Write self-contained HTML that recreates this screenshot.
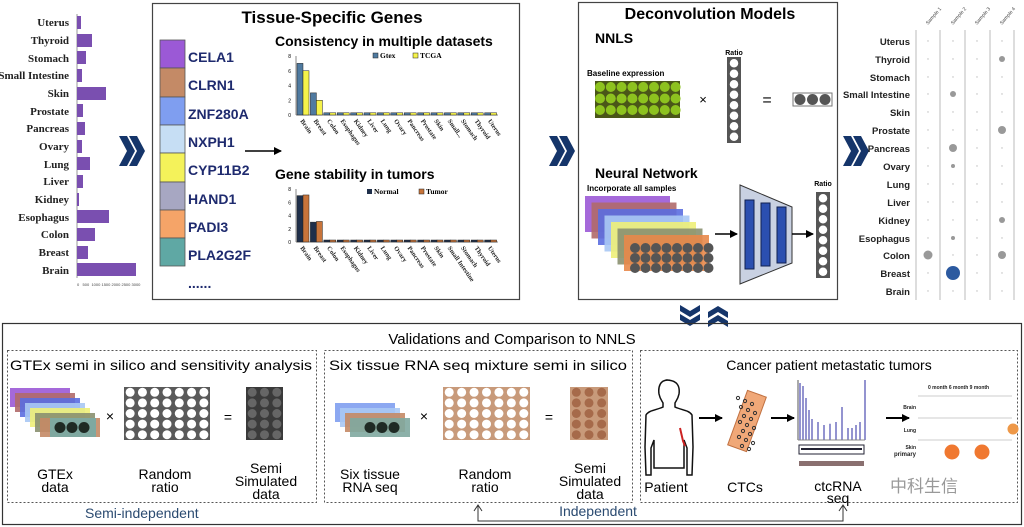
<!DOCTYPE html>
<html><head><meta charset="utf-8"><style>
html,body{margin:0;padding:0;background:#fff;width:1024px;height:527px;overflow:hidden}
svg{display:block}
text{font-family:"Liberation Sans",sans-serif}
.s text,text.s{font-family:"Liberation Serif",serif;font-weight:bold}
.b{font-weight:bold}
</style></head><body>
<svg id="g" width="1024" height="527" viewBox="0 0 1024 527" xmlns="http://www.w3.org/2000/svg">
<defs>
<marker id="ah" markerWidth="8" markerHeight="8" refX="7" refY="4" orient="auto" markerUnits="userSpaceOnUse"><path d="M0,0 L8,4 L0,8 Z" fill="#000"/></marker>
</defs>

<!-- Left bar chart -->
<g class="s" font-size="11" text-anchor="end" fill="#222">
<text x="69" y="26">Uterus</text><text x="69" y="44">Thyroid</text><text x="69" y="62">Stomach</text>
<text x="69" y="79">Small Intestine</text><text x="69" y="97">Skin</text><text x="69" y="115">Prostate</text>
<text x="69" y="132">Pancreas</text><text x="69" y="150">Ovary</text><text x="69" y="168">Lung</text>
<text x="69" y="185">Liver</text><text x="69" y="203">Kidney</text><text x="69" y="221">Esophagus</text>
<text x="69" y="238">Colon</text><text x="69" y="256">Breast</text><text x="69" y="274">Brain</text>
</g>
<line x1="77" y1="14" x2="77" y2="278" stroke="#999"/>
<g fill="#7a4fb0">
<rect x="77" y="16" width="4" height="13"/><rect x="77" y="34" width="15" height="13"/><rect x="77" y="51" width="9" height="13"/>
<rect x="77" y="69" width="5" height="13"/><rect x="77" y="87" width="29" height="13"/><rect x="77" y="104" width="6" height="13"/>
<rect x="77" y="122" width="8" height="13"/><rect x="77" y="140" width="5" height="13"/><rect x="77" y="157" width="13" height="13"/>
<rect x="77" y="175" width="6" height="13"/><rect x="77" y="193" width="2" height="13"/><rect x="77" y="210" width="32" height="13"/>
<rect x="77" y="228" width="18" height="13"/><rect x="77" y="246" width="11" height="13"/><rect x="77" y="263" width="59" height="13"/>
</g>
<text x="77" y="286" font-size="4" fill="#444">0 &#160;&#160;500 &#160;1000 1500 2000 2500 3000</text>

<!-- chevrons -->
<g fill="#15356a">
<path d="M119,136 l8,0 l8,15 l-8,15 l-8,0 l8,-15z M129,136 l8,0 l8,15 l-8,15 l-8,0 l8,-15z"/>
<path d="M549,136 l8,0 l8,15 l-8,15 l-8,0 l8,-15z M559,136 l8,0 l8,15 l-8,15 l-8,0 l8,-15z"/>
<path d="M843,136 l8,0 l8,15 l-8,15 l-8,0 l8,-15z M853,136 l8,0 l8,15 l-8,15 l-8,0 l8,-15z"/>
<path d="M680,305 l0,6 l10,6 l10,-6 l0,-6 l-10,6z M680,314 l0,6 l10,6 l10,-6 l0,-6 l-10,6z"/>
<path d="M708,312 l0,6 l10,-6 l10,6 l0,-6 l-10,-6z M708,321 l0,6 l10,-6 l10,6 l0,-6 l-10,-6z"/>
</g>

<!-- Box 1 -->
<rect x="152.5" y="3.5" width="367" height="296" fill="none" stroke="#444" stroke-width="1.2"/>
<text x="332" y="23" font-size="17" class="b" text-anchor="middle">Tissue-Specific Genes</text>
<g stroke="#555" stroke-width="0.8">
<rect x="160" y="40" width="25" height="28" fill="#9b59d6"/><rect x="160" y="68" width="25" height="29" fill="#c48a66"/>
<rect x="160" y="97" width="25" height="28" fill="#7f9ef0"/><rect x="160" y="125" width="25" height="28" fill="#c6def4"/>
<rect x="160" y="153" width="25" height="29" fill="#f4f25a"/><rect x="160" y="182" width="25" height="28" fill="#a7a7c2"/>
<rect x="160" y="210" width="25" height="28" fill="#f5a468"/><rect x="160" y="238" width="25" height="28" fill="#5fa8a4"/>
</g>
<g font-size="14" class="b" fill="#1e2a6e">
<text x="188" y="62">CELA1</text><text x="188" y="90">CLRN1</text><text x="188" y="119">ZNF280A</text>
<text x="188" y="147">NXPH1</text><text x="188" y="175">CYP11B2</text><text x="188" y="204">HAND1</text>
<text x="188" y="232">PADI3</text><text x="188" y="260">PLA2G2F</text><text x="188" y="288">......</text>
</g>
<line x1="245" y1="151" x2="281" y2="151" stroke="#000" stroke-width="1.5" marker-end="url(#ah)"/>
<text x="275" y="46" font-size="14" class="b">Consistency in multiple datasets</text>
<text x="275" y="179" font-size="14" class="b">Gene stability in tumors</text>
<g id="ch"></g>

<!-- Box 2 -->
<rect x="578.5" y="2.5" width="259" height="297" fill="none" stroke="#444" stroke-width="1.2"/>
<text x="710" y="19" font-size="16" class="b" text-anchor="middle">Deconvolution Models</text>
<text x="595" y="43" font-size="14" class="b">NNLS</text>
<text x="734" y="55" font-size="7" class="b" text-anchor="middle">Ratio</text>
<text x="587" y="76" font-size="8" class="b">Baseline expression</text>
<rect x="595" y="81" width="85" height="37" fill="#4a5618"/>
<text x="703" y="104" font-size="13" text-anchor="middle">×</text>
<text x="767" y="105" font-size="16" text-anchor="middle">=</text>
<rect x="793" y="93" width="39" height="13" fill="#fff" stroke="#777"/>
<text x="595" y="178" font-size="14" class="b">Neural Network</text>
<text x="587" y="191" font-size="8" class="b">Incorporate all samples</text>
<text x="823" y="186" font-size="7" class="b" text-anchor="middle">Ratio</text>
<g id="stack"></g>
<line x1="715" y1="234" x2="737" y2="234" stroke="#000" stroke-width="1.5" marker-end="url(#ah)"/>
<path d="M740,185 L792,207 L792,263 L740,284Z" fill="#c9d1e2" stroke="#333"/>
<rect x="745" y="200" width="9" height="69" fill="#2b4fb0" stroke="#102050"/>
<rect x="761" y="203" width="9" height="63" fill="#2b4fb0" stroke="#102050"/>
<rect x="777" y="207" width="9" height="56" fill="#2b4fb0" stroke="#102050"/>
<line x1="792" y1="234" x2="813" y2="234" stroke="#000" stroke-width="1.5" marker-end="url(#ah)"/>

<!-- right dot chart -->
<g font-size="9.5" class="b" text-anchor="end" fill="#222">
<text x="910" y="45">Uterus</text><text x="910" y="63">Thyroid</text><text x="910" y="81">Stomach</text>
<text x="910" y="98">Small Intestine</text><text x="910" y="116">Skin</text><text x="910" y="134">Prostate</text>
<text x="910" y="152">Pancreas</text><text x="910" y="170">Ovary</text><text x="910" y="188">Lung</text>
<text x="910" y="206">Liver</text><text x="910" y="224">Kidney</text><text x="910" y="242">Esophagus</text>
<text x="910" y="259">Colon</text><text x="910" y="277">Breast</text><text x="910" y="295">Brain</text>
</g>
<g stroke="#bbb"><line x1="916" y1="30" x2="916" y2="300"/><line x1="940" y1="30" x2="940" y2="300"/><line x1="965" y1="30" x2="965" y2="300"/><line x1="990" y1="30" x2="990" y2="300"/><line x1="1014" y1="30" x2="1014" y2="300"/></g>
<g font-size="5" fill="#444">
<text transform="translate(928,25) rotate(-50)">Sample 1</text><text transform="translate(953,25) rotate(-50)">Sample 2</text>
<text transform="translate(977,25) rotate(-50)">Sample 3</text><text transform="translate(1002,25) rotate(-50)">Sample 4</text>
</g>
<g id="dots"></g>

<!-- bottom -->
<rect x="2.5" y="323.5" width="1019" height="201" fill="none" stroke="#333" stroke-width="1.2"/>
<text x="512" y="344" font-size="15" text-anchor="middle">Validations and Comparison to NNLS</text>
<g fill="none" stroke="#555" stroke-dasharray="2,2">
<rect x="7.5" y="350.5" width="309" height="152"/><rect x="324.5" y="350.5" width="308" height="152"/><rect x="640.5" y="350.5" width="377" height="152"/>
</g>
<g font-size="14">
<text x="10" y="370" textLength="302" lengthAdjust="spacingAndGlyphs">GTEx semi in silico and sensitivity analysis</text>
<text x="329" y="370" textLength="298" lengthAdjust="spacingAndGlyphs">Six tissue RNA seq mixture semi in silico</text>
<text x="829" y="370" text-anchor="middle">Cancer patient metastatic tumors</text>
</g>
<g id="bot"></g>
<g font-size="14" text-anchor="middle">
<text x="55" y="479">GTEx</text><text x="55" y="492">data</text>
<text x="165" y="479">Random</text><text x="165" y="492">ratio</text>
<text x="266" y="473">Semi</text><text x="266" y="486">Simulated</text><text x="266" y="499">data</text>
<text x="370" y="479">Six tissue</text><text x="370" y="492">RNA seq</text>
<text x="485" y="479">Random</text><text x="485" y="492">ratio</text>
<text x="590" y="473">Semi</text><text x="590" y="486">Simulated</text><text x="590" y="499">data</text>
<text x="666" y="492">Patient</text><text x="745" y="492">CTCs</text>
<text x="838" y="491">ctcRNA</text><text x="838" y="503">seq</text>
<text x="110" y="421">×</text><text x="228" y="422">=</text><text x="424" y="421">×</text><text x="549" y="422">=</text>
</g>
<text x="85" y="518" font-size="14" fill="#2a4a70">Semi-independent</text>
<text x="598" y="516" font-size="14" fill="#2a4a70" text-anchor="middle">Independent</text>
<path d="M478,506 L478,521 L843,521 L843,506" fill="none" stroke="#333"/>
<path d="M474,511 L478,505 L482,511 M839,511 L843,505 L847,511" fill="none" stroke="#333"/>

<!-- patient -->
<path d="M668,380 c-8,0 -10,7 -9,14 c1,5 3,7 4,9 l0,4 c-6,3 -14,3 -17,8 l-1,32 l1,28 l5,0 l0,-27 l3,-8 l0,28 l30,0 l0,-28 l3,8 l0,27 l5,0 l1,-28 l-1,-32 c-3,-5 -11,-5 -17,-8 l0,-4 c1,-2 3,-4 4,-9 c1,-7 -1,-14 -13,-14z" fill="#fff" stroke="#111" stroke-width="1.5"/>
<path d="M680,428 l3,13 l2,5" stroke="#c22" stroke-width="2" fill="none"/>
<line x1="699" y1="418" x2="722" y2="418" stroke="#000" stroke-width="2" marker-end="url(#ah)"/>
<rect x="737" y="392" width="20" height="58" fill="#f0a878" stroke="#c07040" transform="rotate(20 747 421)"/>
<line x1="771" y1="418" x2="794" y2="418" stroke="#000" stroke-width="2" marker-end="url(#ah)"/>
<line x1="886" y1="418" x2="909" y2="418" stroke="#000" stroke-width="2" marker-end="url(#ah)"/>
<g id="ctc"></g>
<line x1="798" y1="380" x2="798" y2="440" stroke="#555"/>
<line x1="798" y1="440" x2="865" y2="440" stroke="#888"/>
<rect x="799" y="445" width="65" height="9" fill="none" stroke="#223"/>
<line x1="801" y1="449" x2="862" y2="449" stroke="#223" stroke-width="2"/>
<rect x="799" y="461" width="65" height="5" fill="#8a7070"/>
<g font-size="5" class="b" fill="#222">
<text x="928" y="389">0 month 6 month 9 month</text>
<text x="916" y="409" text-anchor="end">Brain</text><text x="916" y="432" text-anchor="end">Lung</text>
<text x="916" y="449" text-anchor="end">Skin</text><text x="916" y="456" text-anchor="end" font-size="6">primary</text>
</g>
<g stroke="#ccc"><line x1="918" y1="396" x2="1012" y2="396"/><line x1="918" y1="418" x2="1012" y2="418"/><line x1="918" y1="440" x2="1012" y2="440"/></g>
<circle cx="952" cy="452" r="7.5" fill="#f07830"/><circle cx="982" cy="452" r="7.5" fill="#f07830"/><circle cx="1013" cy="429" r="5.5" fill="#ee9848"/>
<text x="890" y="492" font-size="17" fill="#999" font-family="Noto Sans CJK SC">中科生信</text>
</svg>
<script>
var NS="http://www.w3.org/2000/svg";
function el(p,t,a){var e=document.createElementNS(NS,t);for(var k in a)e.setAttribute(k,a[k]);document.getElementById(p).appendChild(e);return e;}
function chart(y0,h,c1,c2,v){
 el("ch","line",{x1:296,y1:y0-h,x2:296,y2:y0,stroke:"#888"});
 el("ch","line",{x1:296,y1:y0,x2:498,y2:y0,stroke:"#888"});
 for(var i=0;i<=4;i++){var t=el("ch","text",{x:291,y:y0-i*h/4+2,"font-size":5,"text-anchor":"end"});t.textContent=i*2;}
 for(var i=0;i<15;i++){var x=297+i*13.4,a=v[i]||[0.3,0.3];
  el("ch","rect",{x:x,y:y0-a[0]*h/8,width:6,height:a[0]*h/8,fill:c1,stroke:"#222","stroke-width":0.5});
  el("ch","rect",{x:x+6,y:y0-a[1]*h/8,width:6,height:a[1]*h/8,fill:c2,stroke:"#222","stroke-width":0.5});}
}
chart(115,59,"#4f7aa0","#f5f24a",[[7,6],[3,2]]);
chart(242,53,"#1f2f4a","#c8743a",[[7,7.1],[3,3.1]]);
var cats=["Brain","Breast","Colon","Esophagus","Kidney","Liver","Lung","Ovary","Pancreas","Prostate","Skin","Small Intestine","Stomach","Thyroid","Uterus"];
[[121,1],[248,0]].forEach(function(q){for(var i=0;i<15;i++){var x=300+i*13.4;var t=el("ch","text",{transform:"translate("+x+","+q[0]+") rotate(55)","font-size":6.5,"class":"s",fill:"#222"});t.textContent=(q[1]&&i==11)?"Small...":cats[i];}});
el("ch","rect",{x:373,y:53,width:5,height:5,fill:"#4f7aa0",stroke:"#222","stroke-width":0.5});
el("ch","text",{x:380,y:58,"font-size":7.5,"class":"s"}).textContent="Gtex";
el("ch","rect",{x:413,y:53,width:5,height:5,fill:"#f5f24a",stroke:"#222","stroke-width":0.5});
el("ch","text",{x:420,y:58,"font-size":7.5,"class":"s"}).textContent="TCGA";
el("ch","rect",{x:367,y:189,width:5,height:5,fill:"#1f2f4a"});
el("ch","text",{x:374,y:194,"font-size":7.5,"class":"s"}).textContent="Normal";
el("ch","rect",{x:419,y:189,width:5,height:5,fill:"#c8743a",stroke:"#222","stroke-width":0.5});
el("ch","text",{x:426,y:194,"font-size":7.5,"class":"s"}).textContent="Tumor";
for(var r=0;r<3;r++)for(var c=0;c<8;c++)el("stack","circle",{cx:600+c*10.8,cy:87+r*11.5,r:5,fill:"#8dc21f"});
function col(x,y,n,s){el("stack","rect",{x:x,y:y,width:14,height:n*s+2,fill:"#555"});for(var i=0;i<n;i++)el("stack","circle",{cx:x+7,cy:y+1+s/2+i*s,r:s/2-1,fill:"#fff"});}
col(727,57,8,10.5);col(816,192,8,10.5);
for(var i=0;i<3;i++)el("stack","circle",{cx:800+i*12.5,cy:99.5,r:5.5,fill:"#555"});
var cols=["#9b59d6","#b06a6a","#5b6ee0","#a8c8f4","#eef078","#8a9070","#e8884a"];
for(var i=0;i<7;i++)el("stack","rect",{x:585+i*6.5,y:196+i*6.5,width:85,height:36,fill:cols[i],opacity:0.9});
for(var r=0;r<3;r++)for(var c=0;c<8;c++)el("stack","circle",{cx:635+c*10.5,cy:248+r*10,r:5,fill:"#555"});
var rows=[41,59,77,94,112,130,148,166,184,202,220,238,255,273,291],cx=[928,953,977,1002];
var big={"1,3":3,"3,1":3,"5,3":4,"6,1":4,"7,1":2,"10,3":3,"11,1":2,"12,0":4.5,"12,3":4,"13,1":7};
for(var r=0;r<15;r++)for(var c=0;c<4;c++){var k=r+","+c;el("dots","circle",{cx:cx[c],cy:rows[r],r:big[k]||0.7,fill:(k=="13,1")?"#2c5aa0":(big[k]?"#999":"#bbb")});}
var st=["#9b59d6","#b06a6a","#5b6ee0","#a8c8f4","#eef078","#8a9070","#c48a66"];
for(var i=0;i<7;i++)el("bot","rect",{x:10+i*5,y:388+i*5,width:60,height:19,fill:st[i],opacity:0.9});
el("bot","rect",{x:50,y:418,width:46,height:19,fill:"#7fa8a0"});
for(var i=0;i<3;i++)el("bot","circle",{cx:60+i*12,cy:427.5,r:5.5,fill:"#1f2a24"});
var st2=["#7f9ef0","#a8c8f4","#c48a66","#7fa8a0"];
for(var i=0;i<4;i++)el("bot","rect",{x:335+i*5,y:403+i*5,width:60,height:19,fill:st2[i],opacity:0.9});
for(var i=0;i<3;i++)el("bot","circle",{cx:370+i*12,cy:427.5,r:5.5,fill:"#1f2a24"});
function grid(x,y,w,h,nc,nr,bg,fg){el("bot","rect",{x:x,y:y,width:w,height:h,fill:bg});var dx=w/nc,dy=h/nr;for(var r=0;r<nr;r++)for(var c=0;c<nc;c++)el("bot","circle",{cx:x+dx*(c+.5),cy:y+dy*(r+.5),r:Math.min(dx,dy)/2-0.8,fill:fg});}
grid(124,387,86,53,7,5,"#5a5a5a","#fff");grid(246,387,37,53,3,5,"#3a3a3a","#666");
grid(443,387,87,53,7,5,"#c89a7a","#fff");grid(570,387,38,53,3,5,"#c89a7a","#a66a4a");
for(var i=0;i<18;i++)el("ctc","circle",{cx:738+((i*7)%18),cy:398+i*3,r:1.6,fill:"none",stroke:"#333"});
var pk=[[800,0.95],[803,0.9],[806,0.7],[809,0.5],[812,0.35],[818,0.3],[824,0.25],[830,0.27],[836,0.3],[842,0.55],[848,0.2],[852,0.2],[856,0.25],[860,0.3],[865,1]];
pk.forEach(function(p){el("ctc","line",{x1:p[0],y1:440,x2:p[0],y2:440-p[1]*60,stroke:"#2a2aa0"});});
</script>
</body></html>
